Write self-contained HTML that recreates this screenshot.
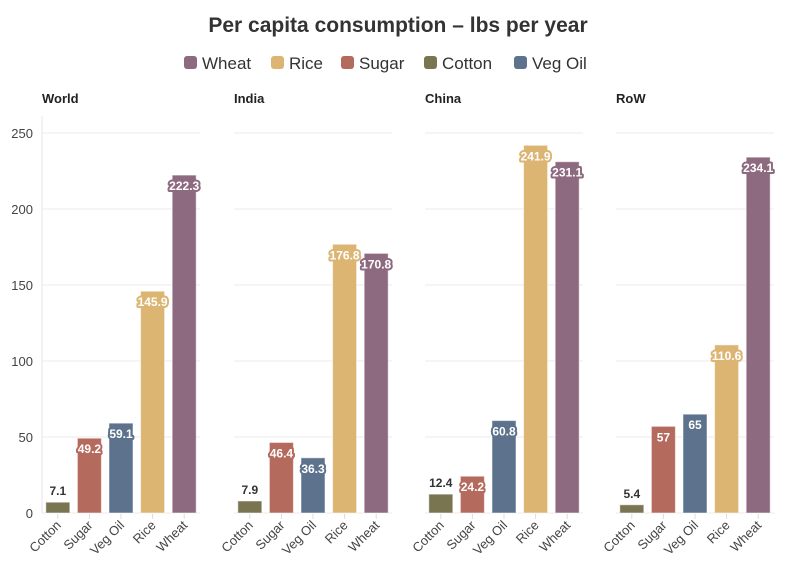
<!DOCTYPE html>
<html><head><meta charset="utf-8"><style>
body{margin:0;background:#fff;}
svg text{font-family:"Liberation Sans",sans-serif;}
</style></head><body>
<svg id="c" width="796" height="575" xmlns="http://www.w3.org/2000/svg">
<text x="398" y="32" text-anchor="middle" font-size="21" font-weight="bold" fill="#333">Per capita consumption – lbs per year</text>
<g id="legend"></g>
<g id="plot"></g>
</svg>
<script>
const regions = ["World","India","China","RoW"];
const categories = ["Cotton","Sugar","Veg Oil","Rice","Wheat"];
const cotton = [7.1,7.9,12.4,5.4];
const sugar = [49.2,46.4,24.2,57];
const vegOil = [59.1,36.3,60.8,65];
const rice = [145.9,176.8,241.9,110.6];
const wheat = [222.3,170.8,231.1,234.1];
const yTicks = [0,50,100,150,200,250];
const legendItems = ["Wheat","Rice","Sugar","Cotton","Veg Oil"];
const colors = {"Cotton":"#7a7551","Sugar":"#b56a5e","Veg Oil":"#5d728c","Rice":"#dcb572","Wheat":"#8e6a80"};
const series = {"Cotton":cotton,"Sugar":sugar,"Veg Oil":vegOil,"Rice":rice,"Wheat":wheat};
const NS="http://www.w3.org/2000/svg";
const svg=document.getElementById('c'), plot=document.getElementById('plot'), leg=document.getElementById('legend');
function mk(tag,attrs,parent){const e=document.createElementNS(NS,tag);for(const k in attrs)e.setAttribute(k,attrs[k]);(parent||plot).appendChild(e);return e;}
const y0=513, yScale=v=>y0-v*1.52;
const panelX=[42,234,425,616], panelW=158;
const band=panelW/5, barW=24;
const legX=[184,271,341,424,514];
legendItems.forEach((n,i)=>{
  const r=mk('rect',{x:legX[i],y:56,width:13,height:13,rx:3,fill:colors[n]},leg);
  
  
  const t=mk('text',{x:legX[i]+18,y:69,'font-size':17,fill:'#333'},leg);
  t.textContent=n;
  
  
});
yTicks.forEach(v=>{
  const t=mk('text',{x:33,y:yScale(v)+5,'text-anchor':'end','font-size':13,fill:'#444'});
  t.textContent=v;
  
  
});
mk('line',{x1:42,x2:42,y1:116,y2:513,stroke:'#e6e6e6'});
regions.forEach((reg,p)=>{
  const px=panelX[p];
  const g=mk('g',{});
  
  
  const tt=mk('text',{x:px,y:103,'font-size':13,'font-weight':'bold',fill:'#222'},g);
  tt.textContent=reg;
  
  
  yTicks.forEach(v=>{mk('line',{x1:px,x2:px+panelW,y1:yScale(v),y2:yScale(v),stroke:'#ebebeb'},g);});
  categories.forEach((cat,i)=>{
    const v=series[cat][p];
    const cx=px+band*(i+0.5);
    const b=mk('rect',{x:cx-barW/2,y:yScale(v),width:barW,height:y0-yScale(v),fill:colors[cat],stroke:'#fff','stroke-opacity':0.5},g);
    
    
    mk('line',{x1:cx,x2:cx,y1:514,y2:519,stroke:'#ddd'},g);
    const xl=mk('text',{x:cx+4,y:526,'text-anchor':'end','font-size':13,fill:'#444',transform:`rotate(-45 ${cx+4} 526)`},g);
    xl.textContent=cat;
    
    
    let lab;
    if(v<20){
      lab=mk('text',{x:cx,y:yScale(v)-7,'text-anchor':'middle','font-size':12,'font-weight':'bold',fill:'#333'},g);
    } else {
      lab=mk('text',{x:cx,y:yScale(v)+15,'text-anchor':'middle','font-size':12,'font-weight':'bold',fill:'#fff',stroke:colors[cat],'stroke-width':4,'paint-order':'stroke','stroke-linejoin':'round'},g);
    }
    lab.textContent=v;
    
    
  });
});
</script>
</body></html>
